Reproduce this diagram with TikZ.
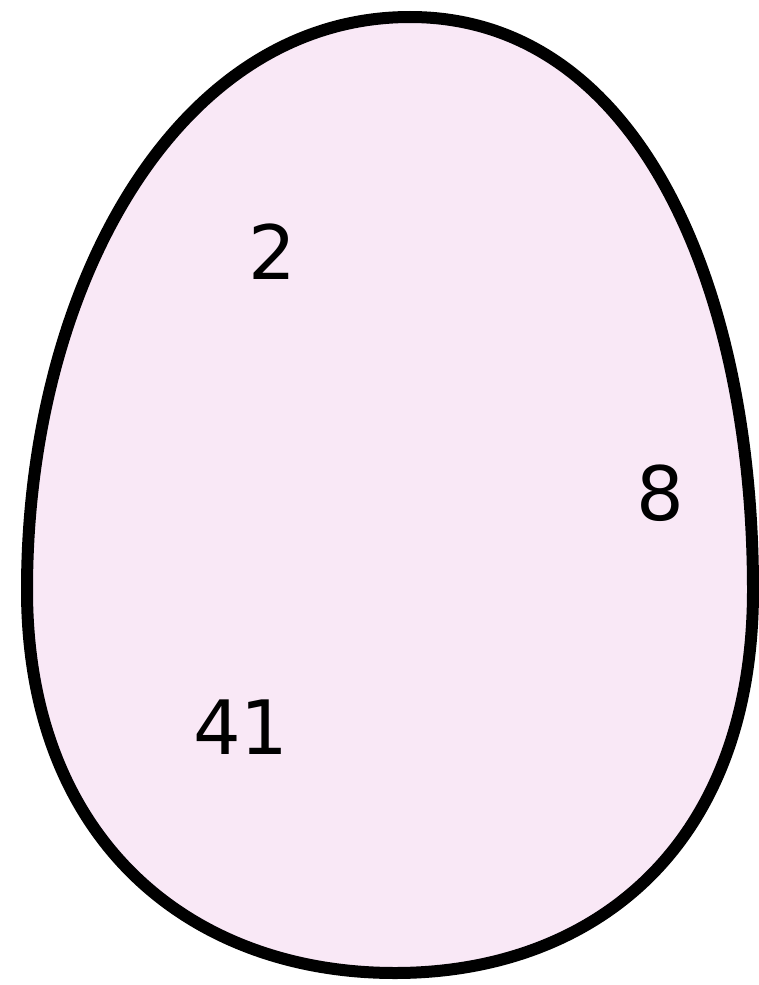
\documentclass[tikz,border=0pt]{standalone}
\usepackage{fontspec}
\setmainfont{DejaVu Sans}
\definecolor{eggfill}{RGB}{249,232,246}
\begin{document}
\begin{tikzpicture}[x=1pt,y=-1pt,
  lbl/.style={font=\fontsize{75}{80}\selectfont, inner sep=0pt}]
\useasboundingbox (0,0) rectangle (759,985);
\draw[line width=12pt, fill=eggfill]
  (410,17) .. controls (640,17) and (753,290) .. (753,590)
  .. controls (753,850) and (590,973) .. (395,973)
  .. controls (190,973) and (27,840) .. (27,590)
  .. controls (27,290) and (175,17) .. (410,17) -- cycle;
\node[lbl] (a) at (272,252) {2};
\node[lbl] (b) at (660,493) {8};
\node[lbl] (c) at (241,727) {41};
\end{tikzpicture}
\end{document}
